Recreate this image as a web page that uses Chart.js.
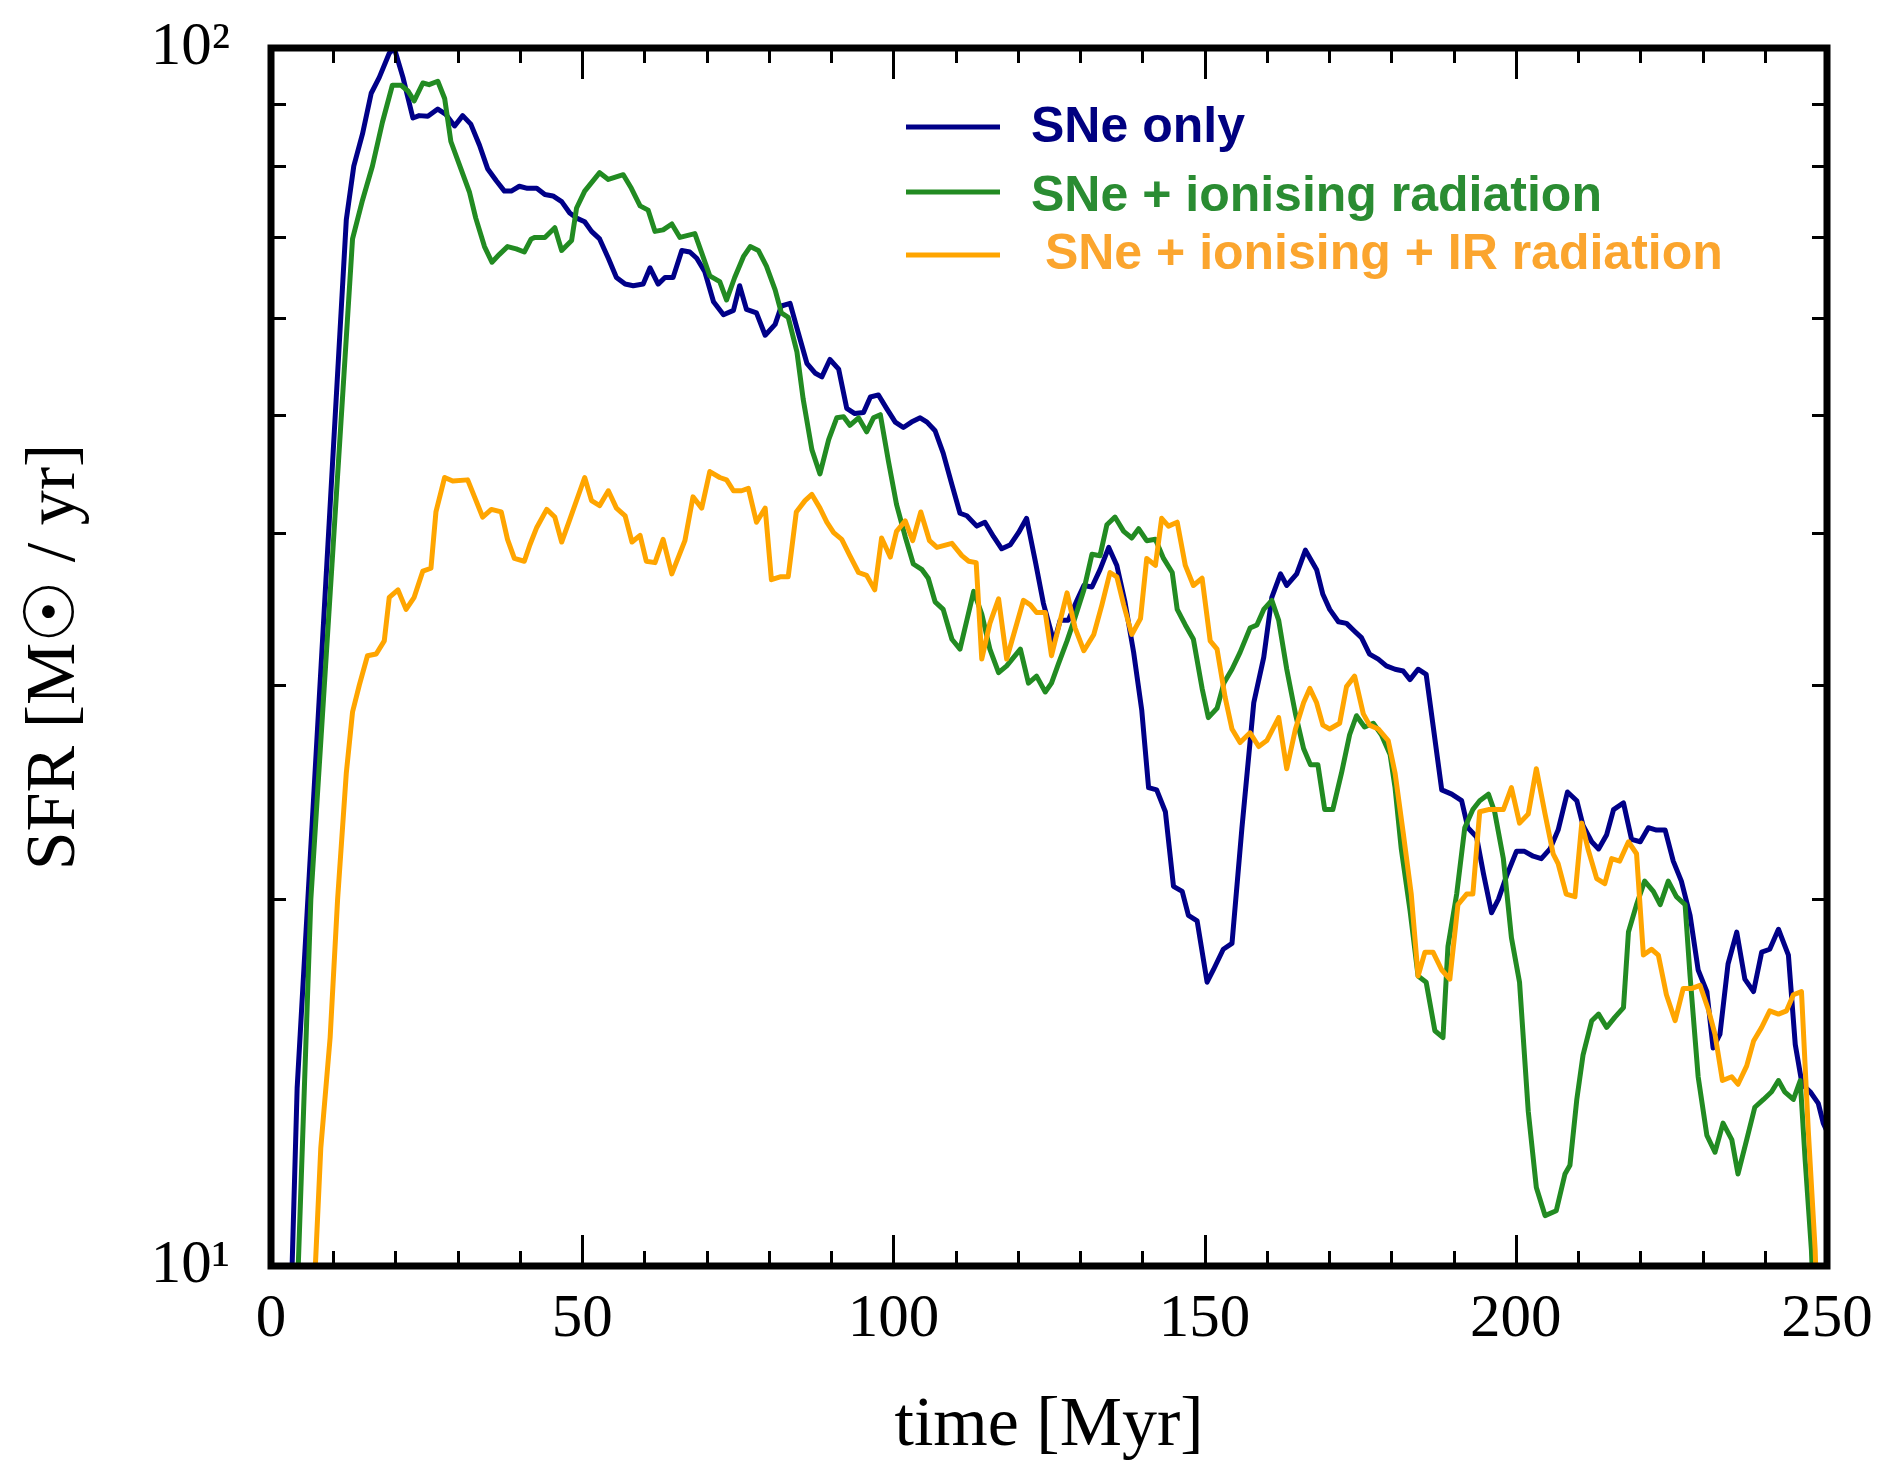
<!DOCTYPE html>
<html>
<head>
<meta charset="utf-8">
<title>Star formation rate history</title>
<script src="https://cdn.jsdelivr.net/npm/chart.js@4/dist/chart.umd.min.js"></script>
<style>
  html, body { margin: 0; padding: 0; background: #ffffff; }
  #sfr { display: block; }
</style>
</head>
<body>
<canvas id="sfr" width="1883" height="1462"></canvas>
<script>
// Star formation rate [M_sun / yr] against time [Myr] for three feedback runs.

// Run 1: supernovae only
const snTime = [3.0, 4.2, 6.7, 12.1, 13.3, 14.7, 16.1, 17.4, 19.0, 19.8, 21.2, 22.8, 23.8, 25.2, 26.8, 28.1, 29.5, 30.8, 32.1, 33.5,
  34.8, 36.2, 37.5, 38.6, 39.9, 41.2, 42.7, 44.0, 45.3, 46.7, 48.0, 49.1, 50.4, 51.5, 52.8, 54.2, 55.5, 56.9, 58.2, 59.8,
  60.9, 62.2, 63.3, 64.6, 66.0, 67.3, 68.4, 69.7, 71.1, 72.7, 74.3, 75.3, 76.4, 78.0, 79.4, 81.0, 82.0, 83.4, 84.7, 86.1,
  87.4, 88.5, 89.8, 91.2, 92.5, 93.8, 95.2, 96.3, 97.6, 98.9, 100.3, 101.6, 102.9, 104.3, 105.4, 106.7, 108.0, 109.4, 110.7, 111.8,
  113.4, 114.7, 116.1, 117.4, 118.8, 120.1, 121.4, 122.8, 124.1, 125.8, 126.8, 128.1, 129.5, 130.6, 131.9, 133.2, 134.6, 135.9, 137.2, 138.6,
  139.9, 141.0, 142.3, 143.7, 145.0, 146.4, 147.4, 148.8, 150.4, 151.4, 153.0, 154.4, 156.0, 157.9, 159.5, 160.8, 162.2, 163.2, 164.8, 166.2,
  168.0, 169.0, 170.1, 171.5, 172.8, 174.1, 175.2, 176.5, 177.9, 179.2, 180.6, 181.9, 183.0, 184.3, 185.6, 186.7, 188.1, 189.7, 191.3, 192.3,
  193.7, 194.8, 196.1, 197.2, 198.5, 200.1, 201.4, 202.8, 204.1, 205.5, 206.8, 208.3, 209.8, 210.8, 212.2, 213.3, 214.6, 215.7, 217.3, 218.6,
  220.0, 221.3, 222.6, 224.0, 225.3, 226.6, 228.0, 229.3, 230.7, 231.7, 232.8, 234.1, 235.5, 236.8, 238.2, 239.5, 240.8, 242.2, 243.8, 244.9,
  246.0, 247.3, 248.6, 249.4, 250.0];
const snSFR = [8.5, 14.0, 23.5, 72.3, 80.0, 85.0, 91.8, 94.6, 99.0, 100.0, 94.6, 87.6, 88.0, 87.9, 89.1, 88.2, 86.3, 88.0, 86.6, 83.2,
  79.6, 77.8, 76.3, 76.3, 77.0, 76.7, 76.7, 75.8, 75.6, 74.8, 73.2, 72.5, 72.0, 70.7, 69.7, 67.2, 64.8, 64.0, 63.8, 64.0,
  66.0, 64.0, 64.8, 64.8, 68.2, 68.0, 67.2, 65.5, 61.9, 60.4, 60.9, 63.8, 61.0, 60.6, 58.1, 59.3, 61.4, 61.7, 58.4, 55.1,
  54.1, 53.7, 55.5, 54.5, 50.6, 50.1, 50.2, 51.7, 51.9, 50.6, 49.3, 48.8, 49.3, 49.7, 49.3, 48.5, 46.5, 43.8, 41.5, 41.3,
  40.5, 40.8, 39.7, 38.8, 39.1, 40.0, 41.1, 37.9, 35.0, 32.5, 33.9, 33.9, 35.2, 36.2, 36.1, 37.3, 38.9, 37.6, 35.1, 31.9,
  28.6, 24.7, 24.6, 23.6, 20.5, 20.3, 19.4, 19.2, 17.1, 17.5, 18.2, 18.4, 22.9, 29.0, 31.6, 35.4, 37.0, 36.2, 37.0, 38.7,
  37.3, 35.6, 34.6, 33.8, 33.7, 33.2, 32.8, 31.8, 31.5, 31.1, 30.9, 30.8, 30.3, 30.9, 30.6, 27.8, 24.6, 24.4, 24.1, 22.9,
  22.5, 21.0, 19.5, 20.0, 20.9, 21.9, 21.9, 21.7, 21.6, 22.0, 22.8, 24.5, 24.1, 23.0, 22.3, 22.0, 22.6, 23.7, 24.0, 22.4,
  22.3, 22.9, 22.8, 22.8, 21.5, 20.7, 19.4, 17.5, 16.8, 15.1, 15.5, 17.7, 18.8, 17.2, 16.8, 18.1, 18.2, 18.9, 18.0, 15.2,
  14.1, 13.9, 13.6, 13.1, 12.9];

// Run 2: supernovae + ionising radiation
const ionTime = [3.8, 6.4, 13.1, 14.7, 16.3, 17.9, 19.5, 20.9, 22.0, 23.0, 24.4, 25.4, 26.8, 27.9, 28.9, 30.5, 31.9, 32.9, 34.3, 35.5,
  36.7, 38.0, 39.4, 40.7, 41.8, 42.4, 44.0, 45.6, 46.7, 48.3, 49.1, 50.4, 52.8, 54.2, 56.6, 57.9, 59.3, 60.6, 61.7, 63.0,
  64.4, 65.7, 68.1, 69.2, 70.5, 72.1, 73.2, 74.5, 75.9, 77.0, 78.3, 79.6, 81.0, 82.0, 83.1, 84.5, 85.5, 86.9, 88.2, 89.6,
  90.9, 92.0, 93.0, 94.4, 95.7, 96.8, 97.9, 99.2, 100.5, 101.9, 103.2, 104.6, 105.6, 106.7, 108.0, 109.4, 110.7, 111.8, 112.9, 114.2,
  115.5, 116.9, 118.2, 120.4, 121.7, 123.0, 124.4, 125.4, 126.5, 127.9, 129.2, 130.6, 131.9, 133.2, 134.3, 135.6, 137.0, 138.3, 139.4, 140.7,
  142.1, 143.4, 144.8, 145.6, 146.9, 148.2, 149.6, 150.6, 152.0, 153.1, 154.4, 155.7, 157.3, 158.4, 159.5, 160.8, 161.9, 163.2, 164.6, 165.9,
  167.0, 168.2, 169.3, 170.6, 172.0, 173.3, 174.4, 175.7, 177.1, 178.4, 179.8, 180.6, 181.6, 183.0, 184.3, 185.6, 187.0, 188.3, 189.1, 190.5,
  191.8, 193.1, 194.2, 195.6, 196.6, 198.0, 199.3, 200.6, 202.0, 203.3, 204.7, 206.5, 207.9, 208.7, 209.8, 210.8, 212.2, 213.3, 214.6, 215.9,
  217.3, 218.1, 219.4, 220.7, 222.1, 223.2, 224.5, 225.8, 227.2, 228.0, 229.3, 230.7, 232.0, 233.3, 234.7, 235.7, 237.1, 238.4, 239.8, 241.1,
  242.2, 243.2, 244.6, 245.7, 246.5, 247.5, 248.3];
const ionSFR = [8.2, 20.0, 69.7, 75.0, 80.0, 86.9, 93.2, 93.2, 92.2, 90.5, 93.6, 93.3, 93.9, 90.9, 83.8, 79.6, 76.1, 72.5, 68.7, 66.7,
  67.7, 68.7, 68.4, 68.0, 69.7, 69.9, 69.9, 71.2, 68.2, 69.5, 73.9, 76.3, 79.0, 78.0, 78.7, 76.7, 74.2, 73.6, 70.7, 70.9,
  71.7, 69.9, 70.4, 67.9, 65.0, 64.3, 62.1, 64.8, 67.4, 68.7, 68.2, 66.2, 63.3, 60.6, 60.1, 56.3, 51.5, 46.8, 44.7, 47.7,
  49.7, 49.8, 49.0, 49.7, 48.4, 49.7, 50.0, 45.8, 42.2, 39.7, 37.7, 37.3, 36.7, 35.1, 34.6, 32.7, 32.1, 33.9, 35.8, 34.3,
  32.1, 30.7, 31.1, 32.1, 30.1, 30.5, 29.6, 30.1, 31.2, 32.6, 34.1, 35.9, 38.4, 38.3, 40.6, 41.2, 40.1, 39.6, 40.3, 39.4,
  39.5, 38.1, 37.1, 34.6, 33.6, 32.7, 29.8, 28.2, 28.7, 30.1, 30.9, 31.9, 33.4, 33.6, 34.6, 35.2, 33.9, 30.9, 28.4, 26.6,
  25.8, 25.8, 23.7, 23.7, 25.4, 27.3, 28.3, 27.7, 27.9, 27.3, 26.3, 24.7, 22.0, 19.6, 17.3, 17.1, 15.6, 15.4, 18.3, 20.2,
  22.9, 23.7, 24.1, 24.4, 23.6, 21.6, 18.6, 17.1, 13.4, 11.6, 11.0, 11.1, 11.9, 12.1, 13.7, 14.9, 15.9, 16.1, 15.7, 16.0,
  16.3, 18.8, 19.8, 20.7, 20.3, 19.8, 20.7, 20.1, 19.8, 17.3, 14.3, 12.8, 12.4, 13.1, 12.7, 11.9, 12.7, 13.5, 13.7, 13.9,
  14.2, 13.9, 13.7, 14.2, 12.2, 10.3, 8.0];

// Run 3: supernovae + ionising + infrared radiation
const irTime = [6.0, 8.0, 9.5, 10.7, 12.1, 13.1, 14.2, 15.5, 16.9, 18.2, 19.0, 20.4, 21.7, 23.0, 24.4, 25.7, 26.5, 27.9, 29.2, 31.6,
  32.7, 34.0, 35.4, 37.0, 38.0, 39.1, 40.7, 41.6, 42.7, 44.3, 45.6, 46.7, 48.0, 50.4, 51.5, 52.8, 54.2, 55.5, 56.9, 58.0,
  59.3, 60.3, 61.7, 63.0, 64.4, 66.5, 67.8, 69.2, 70.5, 72.1, 73.2, 74.3, 75.6, 76.7, 78.0, 79.4, 80.4, 81.8, 83.1, 84.4,
  85.8, 86.9, 88.2, 89.3, 90.4, 91.7, 93.0, 94.4, 95.7, 97.0, 98.1, 99.5, 100.5, 101.9, 103.1, 104.4, 105.8, 107.0, 109.4, 111.0,
  112.1, 113.3, 114.2, 115.5, 116.9, 118.2, 120.9, 122.0, 123.0, 124.4, 125.4, 126.5, 127.9, 129.2, 130.6, 132.2, 133.5, 134.8, 135.9, 137.0,
  138.3, 139.7, 140.7, 142.1, 143.1, 144.2, 145.6, 146.9, 148.2, 149.6, 150.9, 152.0, 153.3, 154.4, 155.7, 157.3, 158.7, 160.0, 161.9, 163.2,
  164.6, 165.9, 166.9, 168.0, 169.0, 170.1, 171.7, 172.8, 174.1, 175.5, 176.5, 177.9, 179.5, 180.6, 181.9, 183.2, 184.3, 185.4, 186.7, 188.1,
  189.4, 190.7, 192.1, 193.1, 194.2, 195.6, 198.0, 199.3, 200.6, 202.0, 203.3, 204.7, 206.0, 206.8, 208.1, 209.5, 210.6, 211.6, 213.0, 214.3,
  215.4, 216.7, 218.1, 219.4, 220.5, 221.8, 222.9, 224.2, 225.6, 226.9, 228.3, 229.6, 231.0, 232.0, 233.2, 234.7, 235.7, 237.1, 238.2, 239.5,
  240.8, 242.2, 243.5, 244.6, 245.9, 247.0, 248.1, 248.8];
const irSFR = [7.5, 12.5, 15.4, 20.0, 25.4, 28.5, 30.0, 31.7, 31.8, 32.6, 35.4, 35.9, 34.6, 35.4, 37.2, 37.4, 41.6, 44.4, 44.1, 44.2,
  42.8, 41.2, 41.8, 41.6, 39.5, 38.1, 37.9, 39.1, 40.4, 41.8, 41.2, 39.3, 41.0, 44.4, 42.5, 42.1, 43.3, 41.9, 41.3, 39.3,
  39.8, 37.9, 37.8, 39.5, 37.0, 39.4, 42.8, 41.9, 44.9, 44.4, 44.2, 43.3, 43.3, 43.5, 40.8, 41.9, 36.6, 36.8, 36.8, 41.6,
  42.5, 43.0, 41.9, 40.8, 40.0, 39.5, 38.3, 37.1, 36.9, 35.9, 39.6, 38.2, 40.1, 40.9, 39.4, 41.6, 39.4, 38.9, 39.2, 38.3,
  37.9, 37.8, 31.5, 33.7, 35.3, 31.5, 35.2, 34.9, 34.4, 34.4, 31.7, 33.4, 35.7, 33.4, 32.0, 33.0, 34.9, 37.1, 36.8, 34.9,
  33.0, 34.0, 38.1, 37.6, 41.1, 40.5, 40.8, 37.6, 36.2, 36.7, 32.6, 32.1, 29.3, 27.6, 26.9, 27.4, 26.7, 27.0, 28.2, 25.6,
  27.6, 29.0, 29.8, 29.0, 27.8, 27.6, 27.9, 29.9, 30.5, 28.4, 27.8, 27.6, 27.0, 25.4, 22.7, 20.2, 17.3, 18.1, 18.1, 17.5,
  17.2, 19.8, 20.2, 20.2, 23.6, 23.7, 23.7, 24.7, 23.1, 23.5, 25.6, 23.5, 21.8, 21.4, 20.2, 20.1, 23.1, 22.0, 20.8, 20.6,
  21.6, 21.5, 22.3, 21.8, 18.0, 18.2, 18.0, 16.7, 15.9, 16.9, 16.9, 17.0, 16.2, 15.5, 14.2, 14.3, 14.1, 14.6, 15.3, 15.7,
  16.2, 16.1, 16.2, 16.7, 16.8, 12.9, 10.3, 8.0];

const seriesLabels = ['SNe only', 'SNe + ionising radiation', ' SNe + ionising + IR radiation'];
const lineColors = ['#000088', '#228b22', '#ffa500'];
const labelColors = ['#000080', '#2a8c32', '#fba52e'];

// Axis ticks: labelled times, and the decade ticks of the SFR axis
const timeTickLabels = [0, 50, 100, 150, 200, 250];
const sfrTicks = [10, 20, 30, 40, 50, 60, 70, 80, 90, 100];
const sfrTickLabels = { 10: '10\u00B9', 100: '10\u00B2' };

const toPoints = (t, v) => t.map((x, i) => ({ x: x, y: v[i] }));

const serif = "'Liberation Serif', 'Times New Roman', 'DejaVu Serif', serif";
const sans = "'Liberation Sans', Arial, Helvetica, sans-serif";
const noLines = { display: true, drawOnChartArea: false, color: 'rgba(0,0,0,0)', tickColor: 'rgba(0,0,0,0)' };

// Thick black box with inward ticks on all four sides (long ticks at labelled times)
const frameAndTicks = {
  id: 'frameAndTicks',
  afterDatasetsDraw(chart) {
    const { ctx, chartArea: a, scales: { x, y } } = chart;
    ctx.save();
    ctx.strokeStyle = '#000';
    ctx.lineCap = 'butt';
    ctx.lineWidth = 3;
    ctx.beginPath();
    x.ticks.forEach(t => {
      if (t.value <= x.min || t.value >= x.max) return;
      const px = Math.round(x.getPixelForValue(t.value)) + 0.5;
      const len = timeTickLabels.includes(t.value) ? 31 : 15;
      ctx.moveTo(px, a.bottom); ctx.lineTo(px, a.bottom - len);
      ctx.moveTo(px, a.top); ctx.lineTo(px, a.top + len);
    });
    y.ticks.forEach(t => {
      if (t.value <= y.min || t.value >= y.max) return;
      const py = Math.round(y.getPixelForValue(t.value)) + 0.5;
      ctx.moveTo(a.left, py); ctx.lineTo(a.left + 15, py);
      ctx.moveTo(a.right, py); ctx.lineTo(a.right - 15, py);
    });
    ctx.stroke();
    ctx.lineWidth = 7;
    ctx.lineJoin = 'miter';
    ctx.strokeRect(a.left, a.top, a.right - a.left, a.bottom - a.top);
    ctx.restore();
  }
};

// Legend drawn inside the plotting box, without a frame
const insideLegend = {
  id: 'insideLegend',
  afterDatasetsDraw(chart) {
    const { ctx, chartArea: a } = chart;
    const lineRows = [79, 144, 207];
    const textRows = [94, 163, 221];
    ctx.save();
    ctx.font = 'bold 50px ' + sans;
    ctx.textAlign = 'left';
    ctx.textBaseline = 'alphabetic';
    chart.data.datasets.forEach((ds, i) => {
      ctx.strokeStyle = ds.borderColor;
      ctx.lineWidth = 5;
      ctx.lineCap = 'butt';
      ctx.beginPath();
      ctx.moveTo(a.left + 635, a.top + lineRows[i]);
      ctx.lineTo(a.left + 729, a.top + lineRows[i]);
      ctx.stroke();
      ctx.fillStyle = labelColors[i];
      ctx.fillText(ds.label, a.left + 760, a.top + textRows[i]);
    });
    ctx.restore();
  }
};

new Chart(document.getElementById('sfr'), {
  type: 'line',
  data: {
    datasets: [
      { label: seriesLabels[0], data: toPoints(snTime, snSFR), borderColor: lineColors[0], order: 2 },
      { label: seriesLabels[1], data: toPoints(ionTime, ionSFR), borderColor: lineColors[1], order: 1 },
      { label: seriesLabels[2], data: toPoints(irTime, irSFR), borderColor: lineColors[2], order: 0 }
    ]
  },
  options: {
    responsive: false,
    animation: false,
    devicePixelRatio: 1,
    layout: { padding: { top: 48, right: 56, bottom: 0, left: 0 } },
    elements: {
      line: { borderWidth: 5, tension: 0, fill: false, borderJoinStyle: 'round', borderCapStyle: 'butt' },
      point: { radius: 0, hoverRadius: 0 }
    },
    plugins: {
      legend: { display: false },
      tooltip: { enabled: false }
    },
    scales: {
      x: {
        type: 'linear',
        min: 0,
        max: 250,
        grid: Object.assign({ tickLength: 17 }, noLines),
        border: { display: false },
        afterFit(scale) { scale.height = 196; },
        ticks: {
          stepSize: 10,
          autoSkip: false,
          maxRotation: 0,
          padding: 0,
          color: '#000',
          font: { family: serif, size: 61 },
          callback: v => (timeTickLabels.includes(v) ? String(v) : '')
        },
        title: {
          display: true,
          text: 'time [Myr]',
          color: '#000',
          font: { family: serif, size: 70, lineHeight: 1 },
          padding: { top: 0, bottom: 0 }
        }
      },
      y: {
        type: 'logarithmic',
        min: 10,
        max: 100,
        grid: Object.assign({ tickLength: 41 }, noLines),
        border: { display: false },
        afterBuildTicks(scale) { scale.ticks = sfrTicks.map(v => ({ value: v })); },
        afterFit(scale) { scale.width = 271; },
        ticks: {
          autoSkip: false,
          padding: 0,
          color: '#000',
          font: { family: serif, size: 61 },
          callback: v => sfrTickLabels[v] || ''
        },
        title: {
          display: true,
          text: 'SFR [M\u2609 / yr]',
          color: '#000',
          font: { family: serif, size: 70, lineHeight: 1 },
          padding: { top: 21, bottom: 0 }
        }
      }
    }
  },
  plugins: [frameAndTicks, insideLegend]
});
</script>
</body>
</html>
